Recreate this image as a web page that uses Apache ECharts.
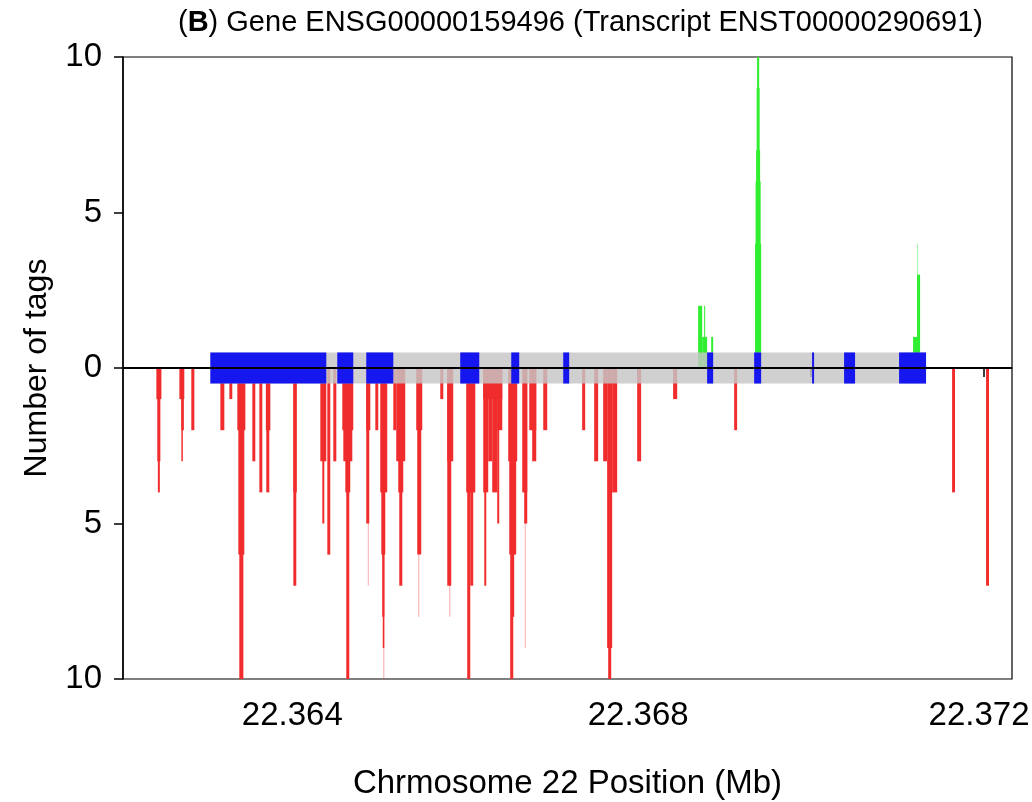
<!DOCTYPE html>
<html>
<head>
<meta charset="utf-8">
<script src="https://cdn.jsdelivr.net/npm/echarts@6/dist/echarts.min.js"></script>
<style>
html,body{margin:0;padding:0;background:#fff;}
#chart{width:1032px;height:802px;}
</style>
</head>
<body>
<div id="chart"></div>
<script>
// ---- data (positions in Mb on chromosome 22) ----
const xRange = [22.362042, 22.372323];
const xTickValues = [22.364, 22.366, 22.368, 22.370, 22.372];
const xLabelValues = [22.364, 22.368, 22.372];
const yTickValues = [-10, -5, 0, 5, 10];

// transcript span and exons [start, end]
const transcriptSpan = [[22.363052, 22.371329]];
const exons = [
  [22.363052, 22.364393], [22.364520, 22.364705], [22.364855, 22.365168],
  [22.365942, 22.366162], [22.366532, 22.366624], [22.367133, 22.367202],
  [22.368797, 22.368867], [22.369341, 22.369422], [22.370011, 22.370034],
  [22.370381, 22.370508], [22.371017, 22.371329]
];

// sense-strand tag coverage (green): [start, end, count, faint]
const senseTags = [
  [22.368693, 22.368740, 2, 0], [22.368740, 22.368797, 1, 0], [22.368763, 22.368774, 2, 0],
  [22.368844, 22.368867, 1, 0],
  [22.369352, 22.369422, 4, 0], [22.369358, 22.369416, 6, 0], [22.369364, 22.369410, 7, 0],
  [22.369370, 22.369404, 9, 0], [22.369375, 22.369399, 10, 0],
  [22.371179, 22.371225, 1, 0], [22.371225, 22.371260, 3, 0], [22.371225, 22.371237, 4, 1]
];

// antisense-strand tag coverage (red, drawn downward): [start, end, count, faint]
const antisenseTags = [
  [22.362428, 22.362486, 1, 0], [22.362439, 22.362474, 3, 0], [22.362445, 22.362468, 4, 0],
  [22.362694, 22.362751, 1, 0], [22.362717, 22.362746, 2, 0], [22.362717, 22.362734, 3, 0],
  [22.362832, 22.362867, 2, 0],
  [22.363168, 22.363214, 2, 0],
  [22.363272, 22.363306, 1, 0],
  [22.363364, 22.363457, 2, 0], [22.363376, 22.363445, 6, 0], [22.363387, 22.363434, 10, 0],
  [22.363538, 22.363572, 3, 0],
  [22.363619, 22.363653, 4, 0],
  [22.363694, 22.363746, 2, 0], [22.363699, 22.363734, 4, 0],
  [22.364012, 22.364052, 4, 0], [22.364012, 22.364046, 7, 0],
  [22.364324, 22.364393, 3, 0], [22.364347, 22.364370, 5, 0], [22.364405, 22.364439, 6, 0],
  [22.364474, 22.364509, 3, 0],
  [22.364578, 22.364705, 2, 0], [22.364590, 22.364694, 3, 0], [22.364613, 22.364670, 4, 0],
  [22.364624, 22.364659, 10, 0],
  [22.364855, 22.364902, 2, 0], [22.364855, 22.364890, 5, 0], [22.364873, 22.364884, 7, 1],
  [22.364960, 22.364994, 2, 0],
  [22.365017, 22.365098, 4, 0], [22.365029, 22.365075, 6, 0], [22.365040, 22.365064, 8, 0],
  [22.365046, 22.365064, 9, 0], [22.365052, 22.365064, 10, 1],
  [22.365168, 22.365202, 2, 0],
  [22.365202, 22.365306, 3, 0], [22.365225, 22.365283, 4, 0], [22.365237, 22.365272, 7, 0],
  [22.365433, 22.365503, 2, 0], [22.365445, 22.365491, 6, 0], [22.365457, 22.365468, 8, 1],
  [22.365711, 22.365746, 1, 0],
  [22.365792, 22.365861, 3, 0], [22.365792, 22.365838, 7, 0], [22.365815, 22.365827, 8, 1],
  [22.366011, 22.366116, 4, 0], [22.366023, 22.366058, 10, 0], [22.366058, 22.366092, 7, 0],
  [22.366208, 22.366428, 1, 0], [22.366208, 22.366266, 4, 0], [22.366220, 22.366243, 7, 0],
  [22.366266, 22.366312, 3, 0], [22.366312, 22.366370, 4, 0], [22.366370, 22.366393, 5, 0],
  [22.366370, 22.366428, 2, 0],
  [22.366497, 22.366601, 3, 0], [22.366509, 22.366589, 6, 0], [22.366520, 22.366555, 10, 0],
  [22.366543, 22.366566, 8, 0],
  [22.366659, 22.366717, 4, 0], [22.366682, 22.366717, 5, 0], [22.366688, 22.366699, 9, 1],
  [22.366740, 22.366821, 2, 0], [22.366774, 22.366821, 3, 0],
  [22.366902, 22.366948, 2, 0],
  [22.367352, 22.367387, 2, 0],
  [22.367491, 22.367537, 3, 0],
  [22.367595, 22.367641, 3, 0], [22.367641, 22.367699, 9, 0], [22.367653, 22.367688, 10, 0],
  [22.367699, 22.367757, 4, 0],
  [22.367988, 22.368034, 3, 0],
  [22.368404, 22.368451, 1, 0],
  [22.369110, 22.369144, 2, 0],
  [22.371630, 22.371664, 4, 0],
  [22.372023, 22.372057, 7, 0]
];

const FONT = "'Liberation Sans', Arial, Helvetica, sans-serif";

function coverageRenderer(color, sign) {
  return function (params, api) {
    const s = api.value(0), e = api.value(1), v = api.value(2) * sign, faint = api.value(3);
    const p0 = api.coord([s, 0]);
    const p1 = api.coord([e, v]);
    const x = Math.min(p0[0], p1[0]);
    const w = Math.max(Math.abs(p1[0] - p0[0]), 1);
    const y = Math.min(p0[1], p1[1]);
    const h = Math.abs(p1[1] - p0[1]);
    return {
      type: 'rect',
      shape: { x: x, y: y, width: w, height: h },
      style: { fill: color, opacity: faint ? 0.4 : 1 }
    };
  };
}

function boxRenderer(color) {
  return function (params, api) {
    const p0 = api.coord([api.value(0), 0.5]);
    const p1 = api.coord([api.value(1), -0.5]);
    return {
      type: 'rect',
      shape: { x: p0[0], y: p0[1], width: Math.max(p1[0] - p0[0], 1.5), height: p1[1] - p0[1] },
      style: { fill: color }
    };
  };
}

const lastLabel = xLabelValues[xLabelValues.length - 1];

const chart = echarts.init(document.getElementById('chart'), null, { renderer: 'canvas' });

chart.setOption({
  backgroundColor: '#fff',
  animation: false,
  title: {
    text: '({b|B}) Gene ENSG00000159496 (Transcript ENST00000290691)',
    left: 173,
    top: 3,
    textStyle: {
      fontFamily: FONT, fontSize: 29, fontWeight: 'normal', color: '#000',
      rich: { b: { fontFamily: FONT, fontSize: 29, fontWeight: 'bold', color: '#000' } }
    }
  },
  grid: {
    left: 123, right: 20, top: 57, bottom: 123,
    containLabel: false,
    outerBoundsMode: 'none',
    show: true, borderColor: '#000', borderWidth: 1.2, backgroundColor: 'transparent'
  },
  xAxis: {
    type: 'value',
    min: xRange[0], max: xRange[1],
    name: 'Chrmosome 22 Position (Mb)',
    nameLocation: 'middle',
    nameGap: 88,
    nameTextStyle: { fontFamily: FONT, fontSize: 33, color: '#000' },
    axisLine: { show: true, lineStyle: { color: '#000', width: 1.5 } },
    axisTick: { show: true, length: 9, inside: false, customValues: xTickValues, lineStyle: { color: '#000', width: 1.5 } },
    axisLabel: {
      customValues: xLabelValues,
      formatter: function (v) {
        const s = Number(v).toFixed(3);
        return Math.abs(v - lastLabel) < 1e-9 ? '{r|' + s + '}' : s;
      },
      rich: { r: { fontFamily: FONT, fontSize: 33, color: '#000', padding: [0, 10, 0, 0] } },
      fontFamily: FONT, fontSize: 33, color: '#000', margin: 20
    },
    splitLine: { show: false }
  },
  yAxis: {
    type: 'value',
    min: -10, max: 10, interval: 5,
    name: 'Number of tags',
    nameLocation: 'middle',
    nameGap: 70,
    nameTextStyle: { fontFamily: FONT, fontSize: 32, color: '#000' },
    axisLine: { show: true, lineStyle: { color: '#000', width: 1.5 } },
    axisTick: { show: true, length: 9, inside: false, lineStyle: { color: '#000', width: 1.5 } },
    axisLabel: {
      formatter: function (v) { return String(Math.abs(v)); },
      fontFamily: FONT, fontSize: 33, color: '#000', margin: 21
    },
    splitLine: { show: false }
  },
  series: [
    {
      name: 'antisense', type: 'custom', z: 2,
      renderItem: coverageRenderer('rgb(240,44,44)', -1),
      encode: { x: [0, 1], y: 2 },
      data: antisenseTags
    },
    {
      name: 'sense', type: 'custom', z: 2,
      renderItem: coverageRenderer('rgb(48,238,48)', 1),
      encode: { x: [0, 1], y: 2 },
      data: senseTags
    },
    {
      name: 'transcript', type: 'custom', z: 3,
      renderItem: boxRenderer('rgba(198,198,198,0.82)'),
      encode: { x: [0, 1] },
      data: transcriptSpan
    },
    {
      name: 'exons', type: 'custom', z: 4,
      renderItem: boxRenderer('rgb(22,22,238)'),
      encode: { x: [0, 1] },
      data: exons
    },
    {
      name: 'zero', type: 'line', z: 5, symbol: 'none', silent: true,
      lineStyle: { color: '#000', width: 2 },
      data: [[xRange[0], 0], [xRange[1], 0]]
    }
  ]
});
</script>
</body>
</html>
